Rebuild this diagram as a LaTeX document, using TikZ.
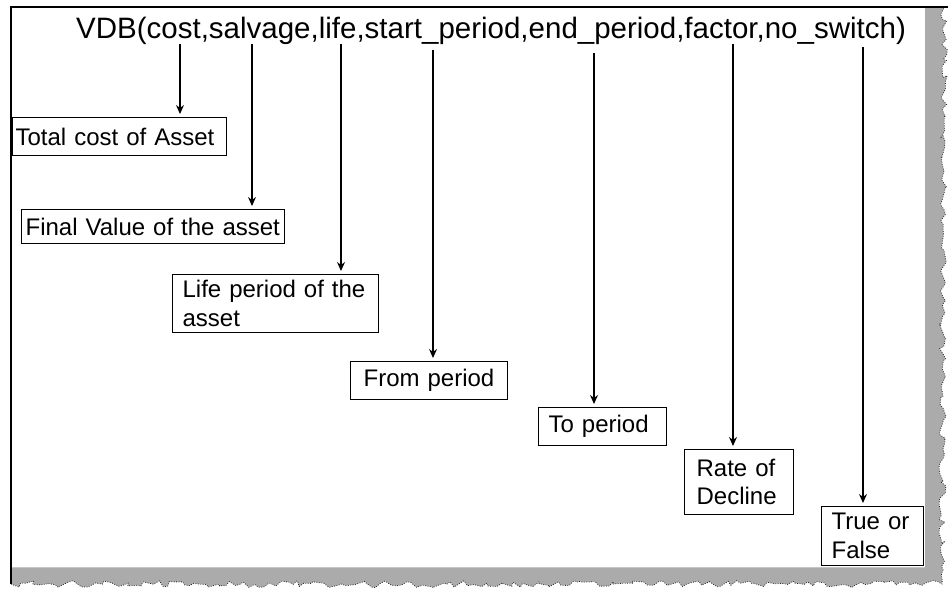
\documentclass[tikz,border=0pt]{standalone}
\usepackage{fontspec}
\setmainfont{Liberation Sans}
\usetikzlibrary{arrows.meta,decorations.pathmorphing}
\definecolor{shadowgray}{RGB}{171,171,171}
\definecolor{tornedge}{RGB}{40,40,40}
\newcommand\hdrfont{\fontsize{29.5}{34}\selectfont}
\newcommand\lblfont{\fontsize{24}{28.5}\selectfont}
\begin{document}
\begin{tikzpicture}[x=1pt,y=-1pt,
  edge/.style={line width=1.2pt,shorten >=3pt,
    -{Stealth[length=9pt,width=8pt,inset=3pt]}},
  box/.style={draw,line width=1.2pt,anchor=north west,inner ysep=0pt,
    align=left,font=\lblfont},
  torn/.style={decoration={random steps,segment length=5pt,amplitude=3.5pt}},
]
\useasboundingbox (0,0) rectangle (948,592);
\fill[white] (0,0) rectangle (948,592);

% torn-paper shadow along the right and bottom edges
\pgfmathsetseed{4711}
\fill[shadowgray] (11,567) -- (11,584)
  decorate[torn]{-- (942,584) -- (944,8)} -- (925,8) -- (925,567) -- cycle;
\pgfmathsetseed{4711}
\draw[tornedge,line width=0.8pt,dash pattern=on 0.8pt off 1.6pt]
  (11,584) decorate[torn]{-- (942,584) -- (944,8)};

% sheet
\fill[white] (11,7) rectangle (925,567);
\draw[gray!45,line width=0.8pt] (11,567) -- (925,567);
\draw[line width=1.5pt] (11,584) -- (11,7) -- (948,7);

% function signature
\node[anchor=base west,inner sep=0pt,font=\hdrfont] (sig) at (76,38)
  {VDB(cost,salvage,life,start\_period,end\_period,factor,no\_switch)};

% argument descriptions (each line kept unbroken)
\node[box,minimum width=214pt,minimum height=38pt,text width=208pt,inner xsep=3pt]
  (b1) at (12,117) {\mbox{Total cost of Asset}};
\node[box,minimum width=263pt,minimum height=34pt,text width=255pt,inner xsep=4pt]
  (b2) at (21,209) {\mbox{Final Value of the asset}};
\node[box,minimum width=206pt,minimum height=58pt,text width=186pt,inner xsep=10pt]
  (b3) at (172,274) {\mbox{Life period of the}\\\mbox{asset}};
\node[box,minimum width=155pt,minimum height=38pt,text width=131pt,inner xsep=13pt]
  (b4) at (350,361) {\mbox{From period}};
\node[box,minimum width=128pt,minimum height=38pt,text width=108pt,inner xsep=10pt]
  (b5) at (538,407) {\mbox{To period}};
\node[box,minimum width=109pt,minimum height=65pt,text width=85pt,inner xsep=12pt]
  (b6) at (684,449) {\mbox{Rate of}\\\mbox{Decline}};
\node[box,minimum width=102pt,minimum height=59pt,text width=82pt,inner xsep=10pt]
  (b7) at (821,506) {\mbox{True or}\\\mbox{False}};

% arrows from each argument down to its description
\coordinate (p1) at (180,44);
\coordinate (p2) at (252,44);
\coordinate (p3) at (341,44);
\coordinate (p4) at (433,50);
\coordinate (p5) at (594,53);
\coordinate (p6) at (733,44);
\coordinate (p7) at (863,47);
\draw[edge] (p1) -- (p1 |- b1.north);
\draw[edge] (p2) -- (p2 |- b2.north);
\draw[edge] (p3) -- (p3 |- b3.north);
\draw[edge] (p4) -- (p4 |- b4.north);
\draw[edge] (p5) -- (p5 |- b5.north);
\draw[edge] (p6) -- (p6 |- b6.north);
\draw[edge] (p7) -- (p7 |- b7.north);
\end{tikzpicture}
\end{document}
